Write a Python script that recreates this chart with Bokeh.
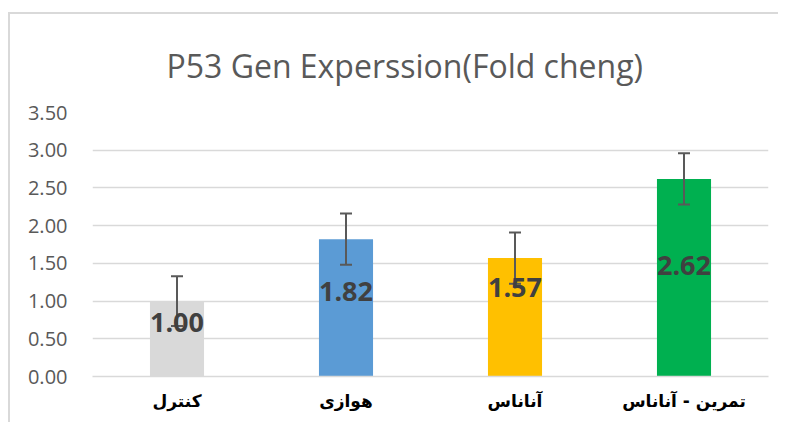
from bokeh.plotting import figure
from bokeh.models import ColumnDataSource, Whisker, TeeHead, FixedTicker, NumeralTickFormatter, Range1d, LabelSet
from bokeh.core.properties import value
from bokeh.embed import file_html
from bokeh.resources import INLINE

categories = ["کنترل", "هوازی", "آناناس", "تمرین - آناناس"]
values = [1.00, 1.82, 1.57, 2.62]
errors = [0.33, 0.34, 0.34, 0.34]
colors = ["#d9d9d9", "#5b9bd5", "#ffc000", "#00b050"]
value_labels = ["1.00", "1.82", "1.57", "2.62"]
label_y = [0.72, 1.13, 1.18, 1.47]
y_ticks = [0, 0.5, 1.0, 1.5, 2.0, 2.5, 3.0, 3.5]

src = ColumnDataSource(dict(
    cat=categories, val=values, color=colors,
    upper=[v + e for v, e in zip(values, errors)],
    lower=[v - e for v, e in zip(values, errors)],
    lab=value_labels, ly=label_y,
))

p = figure(x_range=categories, y_range=Range1d(0, 3.5), width=770, height=410,
           output_backend="svg", toolbar_location=None,
           min_border_left=82, min_border_right=12, min_border_top=98, min_border_bottom=48)
p.margin = (12, 0, 0, 8)
p.styles = {"border-left": "2px solid #d9d9d9", "border-top": "2px solid #d9d9d9"}

p.title.text = "P53 Gen Experssion(Fold cheng)"
p.title.text_font = "Open Sans"
p.title.text_font_size = "32px"
p.title.text_font_style = "normal"
p.title.text_color = "#595959"
p.title.align = "left"
p.title.offset = 74
p.title.standoff = 52

p.outline_line_color = None
p.background_fill_color = "white"
p.border_fill_color = "white"

p.vbar(x="cat", top="val", width=0.32, color="color", source=src, line_color=None)

w = Whisker(base="cat", upper="upper", lower="lower", source=src, level="annotation",
            line_color="#595959", line_width=2,
            upper_head=TeeHead(size=12, line_color="#595959", line_width=2),
            lower_head=TeeHead(size=12, line_color="#595959", line_width=2))
p.add_layout(w)

labels = LabelSet(x="cat", y="ly", text="lab", source=src, text_align="center",
                  text_baseline="middle", text_font=value("Open Sans"), text_font_size="27px",
                  text_font_style="bold", text_color="#404040", level="annotation")
p.add_layout(labels)

p.xgrid.grid_line_color = None
p.ygrid.grid_line_color = "#d9d9d9"
p.ygrid.grid_line_width = 1.5

p.yaxis.ticker = FixedTicker(ticks=y_ticks)
p.yaxis.formatter = NumeralTickFormatter(format="0.00")
p.yaxis.axis_line_color = None
p.yaxis.major_tick_line_color = None
p.yaxis.minor_tick_line_color = None
p.yaxis.major_label_text_font = "Open Sans"
p.yaxis.major_label_text_font_size = "20px"
p.yaxis.major_label_text_color = "#595959"
p.yaxis.major_label_standoff = 19

p.xaxis.axis_line_color = "#d9d9d9"
p.xaxis.axis_line_width = 1.5
p.xaxis.major_tick_line_color = None
p.xaxis.minor_tick_line_color = None
p.xaxis.major_label_text_font = "DejaVu Sans"
p.xaxis.major_label_text_font_style = "bold"
p.xaxis.major_label_text_font_size = "17px"
p.xaxis.major_label_text_color = "black"
p.xaxis.major_label_standoff = 8

open("out.html", "w").write(file_html(p, INLINE))
